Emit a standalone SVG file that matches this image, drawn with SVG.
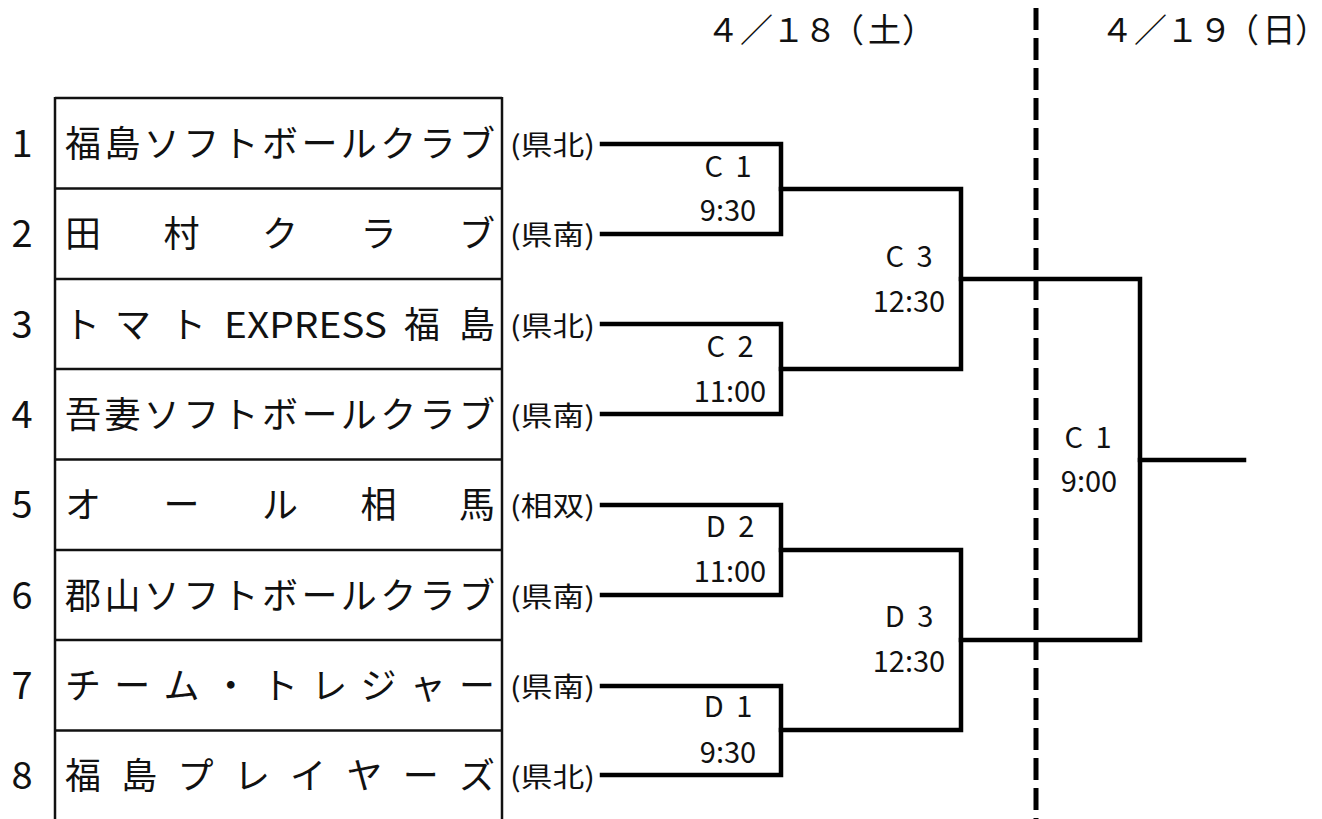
<svg xmlns="http://www.w3.org/2000/svg" width="1322" height="819" viewBox="0 0 1322 819">
<style>
text{font-family:"Noto Sans CJK JP","Noto Sans",sans-serif;fill:#111;}
.num{font-size:38px;text-anchor:middle;}
.name{font-size:36px;}
.reg{font-size:27px;}
.lbl{font-size:29px;text-anchor:middle;word-spacing:6px;}
.date{font-size:33px;}
.halt{font-feature-settings:"halt";}
.grid{stroke:#111;stroke-width:2.5;fill:none;}
.br{stroke:#000;stroke-width:4.5;fill:none;stroke-linecap:square;stroke-linejoin:miter;}
.dash{stroke:#000;stroke-width:5;stroke-dasharray:22 8;fill:none;}
</style>
<rect width="1322" height="819" fill="#fff"/>
<g id="dates">
<text class="date" y="42"><tspan x="706.5 740 772 804 831 868">４／１８（土</tspan><tspan class="halt" x="902">）</tspan></text>
<text class="date" y="42"><tspan x="1100.5 1134 1166 1199 1226 1262.5">４／１９（日</tspan><tspan class="halt" x="1295">）</tspan></text>
</g>
<g id="day-divider"><line class="dash" x1="1036" y1="8" x2="1036" y2="819"/></g>
<g id="table-frame" class="grid">
<line x1="55" y1="97" x2="55" y2="819"/>
<line x1="502" y1="97" x2="502" y2="819"/>
<line x1="55" y1="98" x2="502" y2="98"/>
</g>
<g id="team1"><text class="num" x="22" y="157">1</text><line class="grid" x1="55" y1="188.5" x2="502" y2="188.5"/><text class="name" x="65 104.4 143.8 183.2 222.6 262 301.4 340.8 380.2 419.6 459" y="157">福島ソフトボールクラブ</text><text class="reg" x="510" y="155" textLength="85" lengthAdjust="spacingAndGlyphs">(県北)</text></g>
<g id="team2"><text class="num" x="22" y="247">2</text><line class="grid" x1="55" y1="279" x2="502" y2="279"/><text class="name" x="65 163.5 262 360.5 459" y="247">田村クラブ</text><text class="reg" x="510" y="245" textLength="85" lengthAdjust="spacingAndGlyphs">(県南)</text></g>
<g id="team3"><text class="num" x="22" y="338">3</text><line class="grid" x1="55" y1="369" x2="502" y2="369"/><text class="name" y="338"><tspan x="64">ト</tspan><tspan x="115">マ</tspan><tspan x="170">ト</tspan><tspan x="224" textLength="163" lengthAdjust="spacingAndGlyphs">EXPRESS</tspan><tspan x="404">福</tspan><tspan x="459">島</tspan></text><text class="reg" x="510" y="336" textLength="85" lengthAdjust="spacingAndGlyphs">(県北)</text></g>
<g id="team4"><text class="num" x="22" y="428">4</text><line class="grid" x1="55" y1="459.5" x2="502" y2="459.5"/><text class="name" x="65 104.4 143.8 183.2 222.6 262 301.4 340.8 380.2 419.6 459" y="428">吾妻ソフトボールクラブ</text><text class="reg" x="510" y="426" textLength="85" lengthAdjust="spacingAndGlyphs">(県南)</text></g>
<g id="team5"><text class="num" x="22" y="518">5</text><line class="grid" x1="55" y1="550" x2="502" y2="550"/><text class="name" x="65 163.5 262 360.5 459" y="518">オール相馬</text><text class="reg" x="510" y="516" textLength="85" lengthAdjust="spacingAndGlyphs">(相双)</text></g>
<g id="team6"><text class="num" x="22" y="609">6</text><line class="grid" x1="55" y1="640" x2="502" y2="640"/><text class="name" x="65 104.4 143.8 183.2 222.6 262 301.4 340.8 380.2 419.6 459" y="609">郡山ソフトボールクラブ</text><text class="reg" x="510" y="607" textLength="85" lengthAdjust="spacingAndGlyphs">(県南)</text></g>
<g id="team7"><text class="num" x="22" y="699">7</text><line class="grid" x1="55" y1="730.5" x2="502" y2="730.5"/><text class="name" x="65 114.25 163.5 212.75 262 311.25 360.5 409.75 459" y="699">チーム・トレジャー</text><text class="reg" x="510" y="697" textLength="85" lengthAdjust="spacingAndGlyphs">(県南)</text></g>
<g id="team8"><text class="num" x="22" y="789">8</text><text class="name" x="65 121.3 177.6 233.9 290.1 346.4 402.7 459" y="789">福島プレイヤーズ</text><text class="reg" x="510" y="787" textLength="85" lengthAdjust="spacingAndGlyphs">(県北)</text></g>
<g id="connectors" class="br">
<polyline points="602,144 781,144 781,234 602,234"/>
<polyline points="602,324 781,324 781,414 602,414"/>
<polyline points="602,505 781,505 781,595 602,595"/>
<polyline points="602,686 781,686 781,775 602,775"/>
<polyline points="781,189 961,189 961,369 781,369"/>
<polyline points="781,550 961,550 961,730 781,730"/>
<polyline points="961,279 1140,279 1140,640 961,640"/>
<line x1="1140" y1="460" x2="1244" y2="460"/>
</g>
<g id="match-C1"><text class="lbl" x="728" y="177">C 1</text><text class="lbl" x="728" y="221">9:30</text></g>
<g id="match-C2"><text class="lbl" x="730" y="357">C 2</text><text class="lbl" x="730" y="402">11:00</text></g>
<g id="match-C3"><text class="lbl" x="909" y="267">C 3</text><text class="lbl" x="909" y="312">12:30</text></g>
<g id="match-D2"><text class="lbl" x="730" y="537">D 2</text><text class="lbl" x="730" y="582">11:00</text></g>
<g id="match-D1"><text class="lbl" x="728" y="717">D 1</text><text class="lbl" x="728" y="763">9:30</text></g>
<g id="match-D3"><text class="lbl" x="909" y="627">D 3</text><text class="lbl" x="909" y="672">12:30</text></g>
<g id="match-final-C1"><text class="lbl" x="1088" y="448">C 1</text><text class="lbl" x="1089" y="492">9:00</text></g>
</svg>
